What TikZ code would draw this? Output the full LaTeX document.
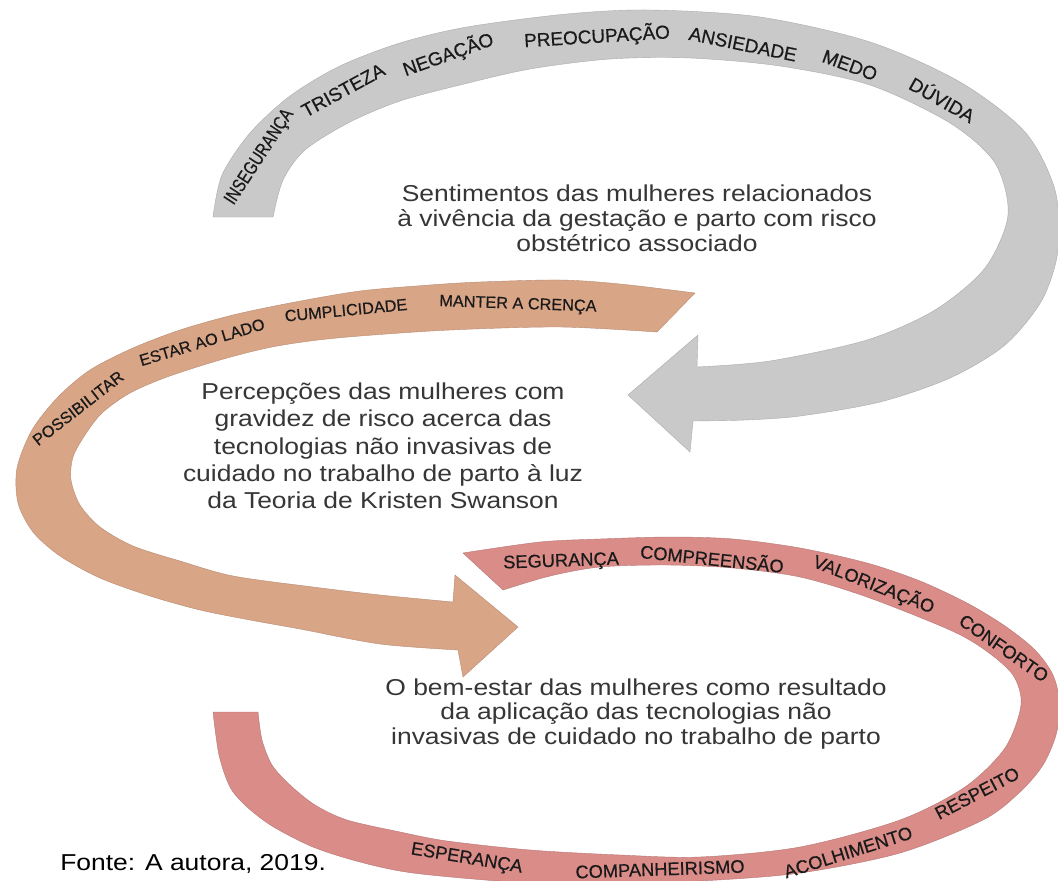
\documentclass[tikz,border=0pt]{standalone}
\usepackage{fontspec}
\setmainfont{Liberation Sans}
\newfontfamily\widesans[FakeStretch=1.15]{Liberation Sans}
\newfontfamily\labfont[FakeBold=0.5]{Liberation Sans}
\definecolor{bandgray}{HTML}{C9C9C9}
\definecolor{bandtan}{HTML}{D9A587}
\definecolor{bandpink}{HTML}{D98C88}
\definecolor{maingray}{HTML}{363636}
\definecolor{labelcol}{HTML}{1A1A1A}
\tikzset{
  maintext/.style={font=\widesans\fontsize{17.25}{18.6}\selectfont, text=maingray, align=center, inner sep=0pt},
  toplab/.style={font=\labfont\fontsize{14.2}{14.2}\selectfont, text=labelcol, inner sep=0pt, text height=10.2pt, text depth=0pt},
  midlab/.style={font=\labfont\fontsize{12.2}{12.2}\selectfont, text=labelcol, inner sep=0pt, text height=8.7pt, text depth=0pt},
  botlab/.style={font=\labfont\fontsize{13.7}{13.7}\selectfont, text=labelcol, inner sep=0pt, text height=9.8pt, text depth=0pt},
}
\begin{document}
\begin{tikzpicture}[x=0.75pt,y=-0.75pt]
\useasboundingbox (0,0) rectangle (1058,881);
\fill[white] (0,0) rectangle (1058,881);

% gray curved arrow (top)
\fill[bandgray, draw=bandgray!85!black, line width=0.3pt]
  plot[smooth] coordinates {(213,217) (222,175) (250,133) (290,96) (340,66) (400,43) (467,27) (567,14) (650,10) (760,17) (870,42) (960,82) (1025,132) (1055,190) (1058,250) (1042,300) (1005,345) (950,378) (880,402) (800,416) (745,420) (693,421)}
  -- (690,452) -- (628,395) -- (698,335)
  -- plot[smooth] coordinates {(697,367) (770,361) (867,340) (935,310) (985,268) (1008,215) (995,163) (950,123) (870,85) (780,66) (690,58) (610,59) (530,69) (460,85) (400,101) (350,122) (305,150) (283,180) (273,217)}
  -- cycle;

% tan curved arrow (middle)
\fill[bandtan, draw=bandtan!85!black, line width=0.3pt]
  plot[smooth] coordinates {(695,293) (620,284) (560,280) (480,282) (430,285) (360,291) (290,303) (233,315) (180,330) (133,348) (90,370) (58,397) (32,430) (17,468) (18,503) (33,532) (60,556) (100,578) (150,596) (200,610) (250,620) (300,629) (380,644) (458,650)}
  -- (463,677) -- (518,627) -- (455,575)
  -- plot[smooth] coordinates {(453,602) (380,595) (313,587) (233,576) (180,561) (133,546) (100,527) (80,505) (71,480) (73,457) (85,435) (102,413) (130,393) (167,377) (220,360) (267,348) (310,341) (360,336) (450,330) (560,327) (657,332)}
  -- cycle;

% pink band (bottom)
\fill[bandpink, draw=bandpink!85!black, line width=0.3pt]
  plot[smooth] coordinates {(463,553) (540,542) (600,539) (670,537) (733,539) (800,548) (867,563) (920,581) (967,603) (1005,626) (1035,650) (1053,675) (1060,705) (1056,735) (1043,765) (1020,792) (983,820) (900,853) (800,873) (700,881) (600,884) (513,882) (413,873) (360,862) (313,847) (272,826) (246,806) (230,787) (219,755) (213,712)}
  -- plot[smooth] coordinates {(258,712) (262,740) (272,765) (290,785) (315,805) (347,820) (400,832) (447,841) (530,850) (620,855) (700,857) (800,847) (900,820) (965,787) (1005,748) (1021,705) (1013,675) (985,650) (950,630) (867,597) (800,577) (733,568) (667,565) (600,567) (550,576) (503,590)}
  -- cycle;

% top labels
\node[toplab, rotate=56.8] (t1) at (258,156) {\scalebox{0.79}[1]{INSEGURANÇA}};
\node[toplab, rotate=28.5] (t2) at (343,90) {TRISTEZA};
\node[toplab, rotate=19.6] (t3) at (448,54) {NEGAÇÃO};
\node[toplab, rotate=3.5] (t4) at (597,36) {PREOCUPAÇÃO};
\node[toplab, rotate=-11.6] (t5) at (743,44) {ANSIEDADE};
\node[toplab, rotate=-20.3] (t6) at (850,65) {MEDO};
\node[toplab, rotate=-29.5] (t7) at (942,100) {DÚVIDA};

% middle labels
\node[midlab, rotate=37.9] (m1) at (78,408) {POSSIBILITAR};
\node[midlab, rotate=16.7] (m2) at (202,342) {ESTAR AO LADO};
\node[midlab, rotate=5.5] (m3) at (346,310) {CUMPLICIDADE};
\node[midlab, rotate=-2] (m4) at (518,303) {MANTER A CRENÇA};

% bottom labels
\node[botlab, rotate=2] (b1) at (561,560) {SEGURANÇA};
\node[botlab, rotate=-6] (b2) at (712,559) {COMPREENSÃO};
\node[botlab, rotate=-21.5] (b3) at (874,584) {VALORIZAÇÃO};
\node[botlab, rotate=-34.8] (b4) at (1004,648) {CONFORTO};
\node[botlab, rotate=27.5] (b5) at (977,793) {RESPEITO};
\node[botlab, rotate=17.6] (b6) at (848,852) {ACOLHIMENTO};
\node[botlab, rotate=2] (b7) at (660,869) {COMPANHEIRISMO};
\node[botlab, rotate=-9.5] (b8) at (467,857) {ESPERANÇA};

% main texts
\node[maintext] (sent) at (637,218) {Sentimentos das mulheres relacionados\\à vivência da gestação e parto com risco\\obstétrico associado};
\node[maintext, font=\widesans\fontsize{17.25}{20.5}\selectfont] (perc) at (383,446) {Percepções das mulheres com\\gravidez de risco acerca das\\tecnologias não invasivas de\\cuidado no trabalho de parto à luz\\da Teoria de Kristen Swanson};
\node[maintext, font=\widesans\fontsize{17.25}{18.6}\selectfont] (bem) at (636,714) {O bem-estar das mulheres como resultado\\da aplicação das tecnologias não\\invasivas de cuidado no trabalho de parto};
\node[font=\widesans\fontsize{17.25}{17.6}\selectfont, text=black, inner sep=0pt, anchor=base west] (fonte) at (60,870) {Fonte: A autora, 2019.};
\end{tikzpicture}
\end{document}
